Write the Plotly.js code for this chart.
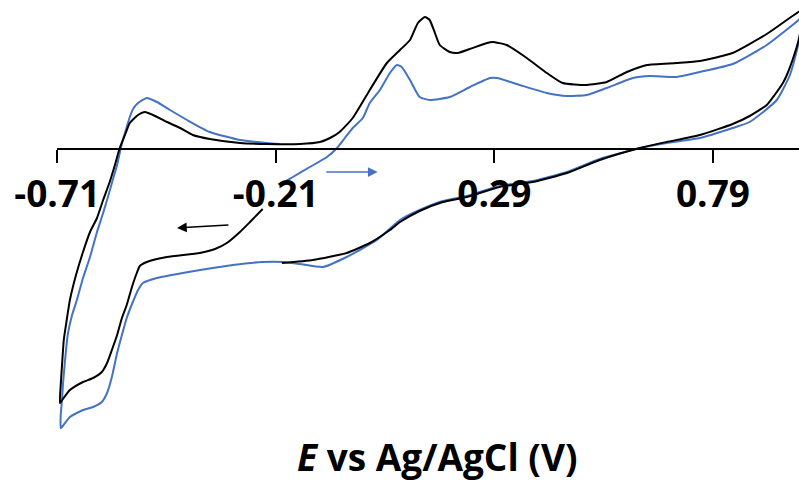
<!DOCTYPE html>
<html>
<head>
<meta charset="utf-8">
<script src="https://cdn.plot.ly/plotly-3.0.1.min.js"></script>
<style>
  html, body { margin: 0; padding: 0; background: #ffffff; }
  #cv { width: 799px; height: 486px; }
</style>
</head>
<body>
<div id="cv"></div>
<script>
// Cyclic voltammograms: potential E (V vs Ag/AgCl) and current I (µA), in scan order.

// First scan (black): starts near -0.24 V sweeping negative
const blackE = [
  -0.240, -0.269, -0.292, -0.322, -0.349, -0.384, -0.459, -0.505, -0.521, -0.528,
  -0.539, -0.551, -0.562, -0.573, -0.585, -0.596, -0.608, -0.628, -0.651, -0.681,
  -0.702, -0.704,
  -0.702, -0.699, -0.695, -0.690, -0.681, -0.667, -0.651, -0.635, -0.619, -0.605,
  -0.590, -0.578, -0.567, -0.555, -0.544, -0.525, -0.509, -0.491, -0.459, -0.429,
  -0.400, -0.361, -0.292, -0.230, -0.155, -0.109, -0.086, -0.064, -0.034, 0.005,
  0.044, 0.074, 0.097, 0.115, 0.131, 0.142, 0.154, 0.165, 0.188, 0.206,
  0.234, 0.273, 0.286, 0.318, 0.364, 0.410, 0.446, 0.501, 0.547, 0.593,
  0.639, 0.707, 0.760, 0.835, 0.913, 0.972, 0.995,
  0.991, 0.986, 0.972, 0.959, 0.950, 0.931, 0.913, 0.874, 0.835, 0.760,
  0.684, 0.623, 0.531, 0.456, 0.378, 0.302, 0.227, 0.172, 0.119, 0.074,
  0.051, 0.005, -0.048, -0.125, -0.196
];
const blackI = [
  -6.0, -7.3, -8.3, -9.4, -10.0, -10.4, -10.8, -11.3, -11.7, -12.4,
  -13.8, -15.6, -16.9, -18.6, -20.1, -21.4, -22.3, -22.9, -23.3, -24.1,
  -25.3, -25.4,
  -23.6, -21.6, -19.1, -17.6, -15.1, -12.6, -10.3, -8.3, -6.9, -5.1,
  -3.3, -1.6, 0.1, 1.4, 2.6, 3.4, 3.7, 3.4, 2.7, 2.1,
  1.4, 1.0, 0.6, 0.5, 0.5, 0.7, 1.1, 1.7, 3.1, 5.9,
  8.6, 9.9, 10.9, 12.6, 13.2, 12.9, 11.6, 10.4, 9.7, 9.6,
  10.0, 10.6, 10.7, 10.4, 9.1, 7.6, 6.6, 6.4, 6.7, 7.7,
  8.4, 8.6, 8.8, 9.6, 11.5, 13.3, 13.9,
  12.1, 10.9, 8.9, 7.4, 6.6, 5.4, 4.4, 3.3, 2.5, 1.4,
  0.7, 0.1, -1.1, -2.4, -3.3, -3.8, -4.8, -5.3, -6.2, -7.3,
  -8.1, -9.4, -10.4, -11.1, -11.4
];

// Second scan (blue): starts near -0.20 V sweeping positive
const blueE = [
  -0.201, -0.194, -0.171, -0.132, -0.093, -0.070, -0.052, -0.034, -0.011, 0.005,
  0.028, 0.051, 0.067, 0.078, 0.097, 0.119, 0.142, 0.188, 0.234, 0.280,
  0.296, 0.348, 0.410, 0.456, 0.501, 0.547, 0.607, 0.645, 0.707, 0.760,
  0.835, 0.913, 0.986, 0.995,
  0.991, 0.986, 0.966, 0.936, 0.874, 0.835, 0.760, 0.684, 0.623, 0.531,
  0.456, 0.378, 0.302, 0.227, 0.172, 0.119, 0.074, 0.021, -0.048, -0.102,
  -0.155, -0.194, -0.240, -0.308, -0.423, -0.482, -0.514, -0.525, -0.537, -0.551,
  -0.562, -0.573, -0.585, -0.596, -0.608, -0.628, -0.651, -0.681, -0.699, -0.702,
  -0.702, -0.699, -0.697, -0.692, -0.686, -0.676, -0.665, -0.651, -0.635, -0.619,
  -0.605, -0.594, -0.583, -0.573, -0.567, -0.560, -0.551, -0.544, -0.535, -0.525,
  -0.505, -0.482, -0.452, -0.413, -0.361, -0.292, -0.230, -0.201
];
const blueI = [
  -3.9, -3.4, -2.8, -1.8, -0.8, 0.1, 1.1, 2.1, 3.1, 4.6,
  5.9, 7.6, 8.4, 8.2, 6.9, 5.2, 4.9, 5.2, 6.2, 7.1,
  7.1, 6.4, 5.6, 5.3, 5.4, 6.1, 7.1, 7.3, 7.2, 7.7,
  8.5, 10.4, 12.9, 13.3,
  11.7, 10.6, 7.4, 4.9, 2.7, 2.1, 1.1, 0.6, 0.1, -1.0,
  -2.3, -3.2, -3.7, -4.7, -5.2, -6.1, -7.1, -9.1, -10.8, -11.8,
  -11.5, -11.3, -11.3, -11.6, -12.4, -12.9, -13.4, -14.1, -15.3, -16.9,
  -18.6, -20.4, -22.8, -24.4, -25.3, -25.8, -26.1, -26.8, -27.8, -27.9,
  -26.6, -25.1, -23.6, -21.1, -18.6, -16.6, -15.1, -12.9, -10.8, -8.3,
  -6.4, -4.8, -3.1, -1.6, -0.4, 0.9, 2.2, 3.2, 4.1, 4.6,
  5.1, 4.7, 3.9, 2.9, 1.7, 0.9, 0.6, 0.5
];

// Scan-direction arrows: [tail E, tail I, head E, head I]
const blueArrow  = [-0.098, -2.3, 0.023, -2.3];
const blackArrow = [-0.315, -7.6, -0.436, -7.9];

// Potential axis ticks
const tickVals = [-0.71, -0.21, 0.29, 0.79];
const tickText = ['-0.71', '-0.21', '0.29', '0.79'];

const BLUE = '#4472C4';
const BLACK = '#000000';

const yRange = [-33.7, 14.9];
const xRange = [-0.7105, 0.9868];

const curveLine = (color) => ({ color: color, width: 2, shape: 'spline', smoothing: 0.5 });

const traces = [
  { x: blueE, y: blueI, type: 'scatter', mode: 'lines', line: curveLine(BLUE), hoverinfo: 'skip' },
  { x: blackE, y: blackI, type: 'scatter', mode: 'lines', line: curveLine(BLACK), hoverinfo: 'skip' }
];

function arrow(a, color) {
  return {
    x: a[2], y: a[3], ax: a[0], ay: a[1],
    xref: 'x', yref: 'y', axref: 'x', ayref: 'y',
    text: '', showarrow: true,
    arrowhead: 2, arrowsize: 1.3, arrowwidth: 1.5, arrowcolor: color
  };
}

const layout = {
  width: 799, height: 486,
  margin: { l: 57, r: 0, t: 0, b: 0, pad: 0 },
  paper_bgcolor: '#ffffff', plot_bgcolor: '#ffffff',
  showlegend: false,
  xaxis: {
    range: xRange,
    anchor: 'free',
    position: (0 - yRange[0]) / (yRange[1] - yRange[0]),
    showline: true, linecolor: BLACK, linewidth: 2,
    ticks: 'outside', ticklen: 13, tickwidth: 2, tickcolor: BLACK,
    tickvals: tickVals, ticktext: tickText,
    tickfont: { family: 'Open Sans', size: 37, color: BLACK, weight: 'bold' },
    showgrid: false, zeroline: false, fixedrange: true
  },
  yaxis: {
    range: yRange, visible: false, showgrid: false, zeroline: false, fixedrange: true
  },
  annotations: [
    arrow(blueArrow, BLUE),
    arrow(blackArrow, BLACK),
    {
      text: '<b><i>E</i> vs Ag/AgCl (V)</b>',
      xref: 'paper', yref: 'paper',
      x: (436.5 - 57) / 742, y: 0.004,
      xanchor: 'center', yanchor: 'bottom',
      showarrow: false,
      font: { family: 'Open Sans', size: 37, color: BLACK }
    }
  ]
};

Plotly.newPlot('cv', traces, layout, { staticPlot: true, displayModeBar: false });
</script>
</body>
</html>
